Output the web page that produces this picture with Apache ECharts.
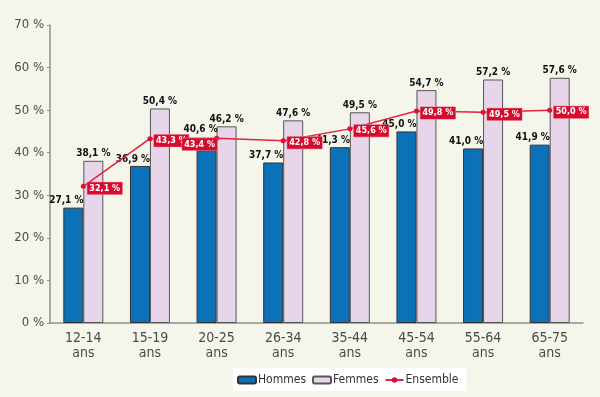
<!DOCTYPE html>
<html>
	<head>
		<meta charset="utf-8">
		<title>ECharts</title>
		<script src="https://cdn.jsdelivr.net/npm/echarts@6/dist/echarts.min.js"></script>
		<style>
			body { margin: 0; background: #f4f6ec; }
		</style>
	</head>
	<body>
		<div id="main" style="width: 600px;height:397px;"></div>
		<script type="text/javascript">
			// données
			const categories = ['12-14\nans', '15-19\nans', '20-25\nans', '26-34\nans', '35-44\nans', '45-54\nans', '55-64\nans', '65-75\nans'];
			const hommes = [27.1, 36.9, 40.6, 37.7, 41.3, 45.0, 41.0, 41.9];
			const femmes = [38.1, 50.4, 46.2, 47.6, 49.5, 54.7, 57.2, 57.6];
			const ensemble = [32.1, 43.3, 43.4, 42.8, 45.6, 49.8, 49.5, 50.0];

			const font = '"DejaVu Sans Condensed", sans-serif';
			const pct = v => v.toFixed(1).replace('.', ',') + ' %';

			let myChart = echarts.init(document.getElementById('main'));

			myChart.setOption({
				backgroundColor: '#f4f6ec',
				animation: false,
				grid: { left: 50, right: 17, top: 25, bottom: 74 },
				legend: {
					left: 233,
					top: 368,
					padding: [6, 8, 5, 4],
					backgroundColor: '#ffffff',
					itemWidth: 18,
					itemHeight: 7,
					itemGap: 6,
					textStyle: { fontFamily: font, fontSize: 12, color: '#333', padding: [0, 0, 0, -3] },
					data: ['Hommes', 'Femmes', 'Ensemble']
				},
				xAxis: {
					type: 'category',
					data: categories,
					axisLine: { lineStyle: { color: '#8a9480', width: 1.5 } },
					axisTick: { length: 3, lineStyle: { color: '#8a9480' } },
					axisLabel: { fontFamily: font, fontSize: 14, color: '#4a4a4a', lineHeight: 15, margin: 8 }
				},
				yAxis: {
					type: 'value',
					min: 0,
					max: 70,
					interval: 10,
					splitLine: { show: false },
					axisLine: { show: true, lineStyle: { color: '#8a9480', width: 1.5 } },
					axisTick: { show: true, length: 3, lineStyle: { color: '#8a9480' } },
					axisLabel: { fontFamily: font, fontSize: 13, color: '#4a4a4a', margin: 6, formatter: '{value} %' }
				},
				series: [{
					name: 'Hommes',
					type: 'bar',
					barWidth: 20,
					barGap: '0%',
					itemStyle: { color: '#0b72b9', borderColor: '#333', borderWidth: 1 },
					label: {
						show: true, position: 'top', distance: 2, offset: [-7, 0],
						fontFamily: font, fontSize: 10, fontWeight: 'bold', color: '#111',
						formatter: p => pct(p.value)
					},
					data: hommes.map((v, i) => i === 2 ? { value: v, label: { offset: [-6, -14] } } : v)
				}, {
					name: 'Femmes',
					type: 'bar',
					barWidth: 20,
					itemStyle: { color: '#e7d6ea', borderColor: '#555', borderWidth: 1 },
					label: {
						show: true, position: 'top', distance: 2,
						fontFamily: font, fontSize: 10, fontWeight: 'bold', color: '#111',
						formatter: p => pct(p.value)
					},
					data: femmes
				}, {
					name: 'Ensemble',
					type: 'line',
					symbol: 'circle',
					symbolSize: 5,
					z: 5,
					itemStyle: { color: '#dc1133' },
					lineStyle: { color: '#e0233f', width: 1.5 },
					label: {
						show: true, position: 'right', distance: 1.5, offset: [0, 2],
						fontFamily: font, fontSize: 9, fontWeight: 'bold', color: '#fff',
						backgroundColor: '#d40d2e', borderColor: '#f08090', borderWidth: 0.5,
						padding: [2, 2, 1, 2], lineHeight: 9,
						formatter: p => pct(p.value)
					},
					data: ensemble.map((v, i) => i === 2 ? { value: v, label: { position: 'left', distance: 0, offset: [3, 6] } } : v)
				}]
			});
		</script>
	</body>
</html>
